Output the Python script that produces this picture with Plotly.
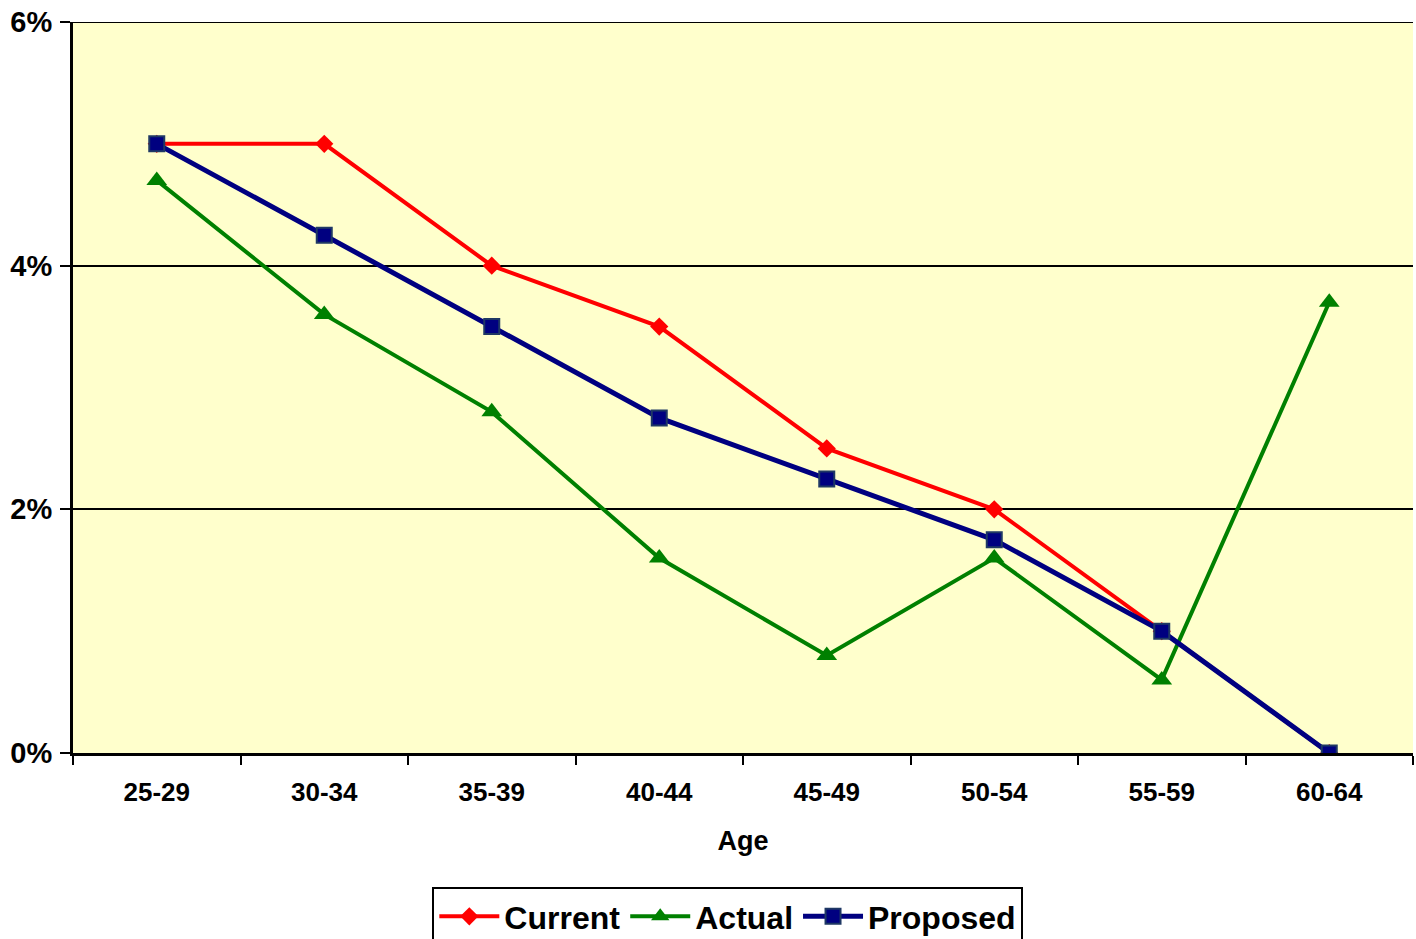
import plotly.graph_objects as go

ages = ["25-29", "30-34", "35-39", "40-44", "45-49", "50-54", "55-59", "60-64"]
current = [5.0, 5.0, 4.0, 3.5, 2.5, 2.0, 1.0, 0.0]
actual = [4.7, 3.6, 2.8, 1.6, 0.8, 1.6, 0.6, 3.7]
proposed = [5.0, 4.25, 3.5, 2.75, 2.25, 1.75, 1.0, 0.0]
y_ticks = [0, 2, 4, 6]
y_labels = ["0%", "2%", "4%", "6%"]

FONT = "Liberation Sans, Arial"

fig = go.Figure()
fig.add_trace(go.Scatter(x=ages, y=current, name="Current", mode="lines+markers",
                         line=dict(color="#FF0000", width=4),
                         marker=dict(symbol="diamond", size=14, color="#FF0000")))
fig.add_trace(go.Scatter(x=ages, y=actual, name="Actual", mode="lines+markers",
                         line=dict(color="#008000", width=4),
                         marker=dict(symbol="triangle-up", size=18, color="#008000")))
fig.add_trace(go.Scatter(x=ages, y=proposed, name="Proposed", mode="lines+markers",
                         line=dict(color="#000080", width=5),
                         marker=dict(symbol="square", size=15, color="#000080",
                                     line=dict(color="#1F3864", width=2))))

fig.update_layout(
    width=1416, height=939,
    margin=dict(l=73, r=3, t=22, b=186, autoexpand=False),
    plot_bgcolor="#FFFFCC", paper_bgcolor="white",
    font=dict(family=FONT, color="black", size=18, weight="bold"),
    showlegend=True,
    legend=dict(orientation="h", xref="container", yref="container",
                x=0.514, xanchor="center", y=1 - 887 / 939, yanchor="top",
                bordercolor="black", borderwidth=2, bgcolor="white",
                font=dict(size=32, family=FONT, color="black", weight="bold"),
                itemwidth=60, tracegroupgap=0),
    shapes=[dict(type="line", xref="paper", yref="y", x0=0, x1=1, y0=6, y1=6,
                 line=dict(color="black", width=2), layer="above")],
)
fig.update_xaxes(
    title=dict(text="Age", font=dict(size=27, family=FONT, weight="bold"), standoff=26),
    tickson="boundaries", ticks="outside", ticklen=9, tickwidth=2, tickcolor="black",
    showline=True, linecolor="black", linewidth=2.5,
    showgrid=False, automargin=False, ticklabelstandoff=14,
    tickfont=dict(size=26, family=FONT, weight="bold"),
    range=[-0.5, 7.5],
)
fig.update_yaxes(
    range=[0, 6], tickvals=y_ticks, ticktext=y_labels,
    ticks="outside", ticklen=10, tickwidth=2, tickcolor="black",
    showline=True, linecolor="black", linewidth=3,
    showgrid=True, gridcolor="black", gridwidth=1.5,
    zeroline=False, automargin=False, ticklabelstandoff=2,
    tickfont=dict(size=29, family=FONT, weight="bold"),
)
fig.write_html("out.html", config={"displayModeBar": False},
               post_script="document.body.style.margin='0';document.body.style.padding='0';")
